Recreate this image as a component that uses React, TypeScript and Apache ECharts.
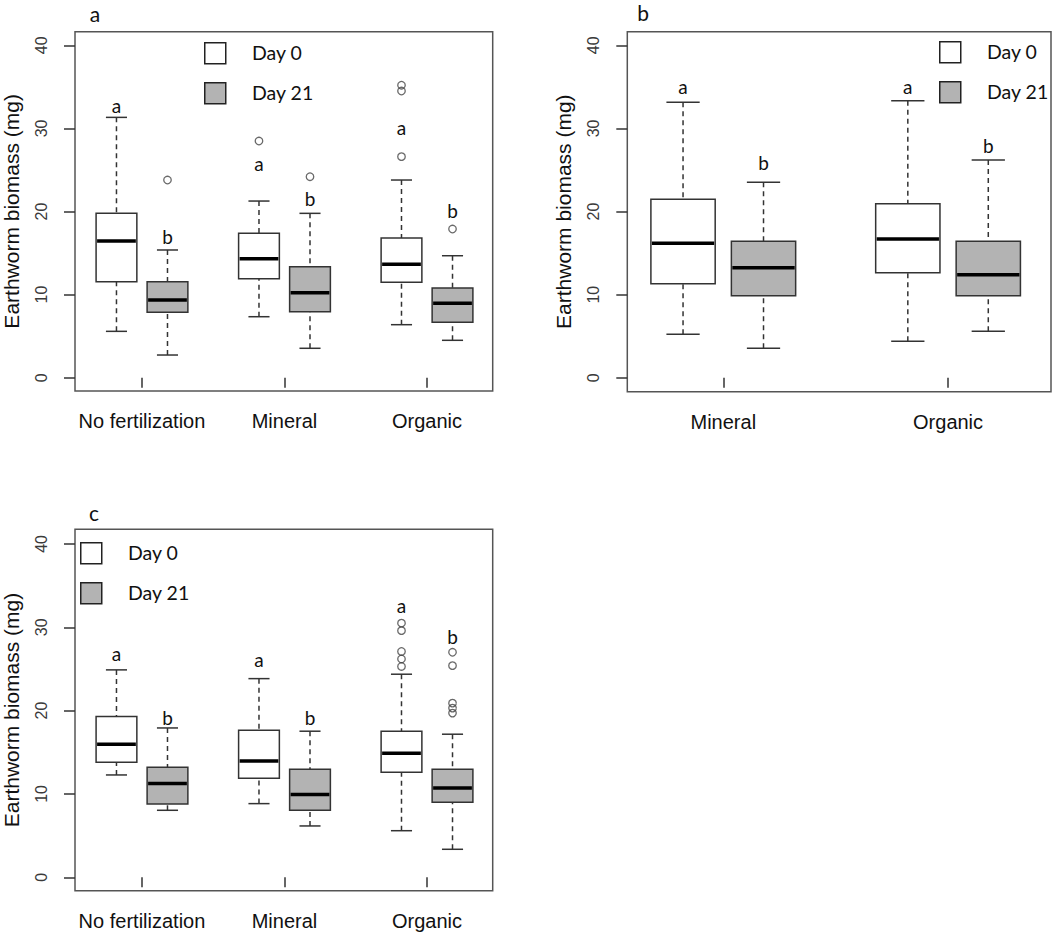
import React, { useEffect, useRef } from "react";
import * as echarts from "echarts";

// categories
const catsAC = ["No fertilization", "Mineral", "Organic"];
const catsB = ["Mineral", "Organic"];
const yTicks = [0, 10, 20, 30, 40];

// box stats: [lower whisker, Q1, median, Q3, upper whisker]
const aDay0 = [[5.58, 11.55, 16.45, 19.78, 31.33], [7.34, 11.91, 14.32, 17.38, 21.26], [6.38, 11.48, 13.65, 16.81, 23.79]];
const aDay21 = [[2.73, 7.87, 9.35, 11.55, 15.37], [3.54, 7.94, 10.23, 13.36, 19.78], [4.5, 6.67, 8.95, 10.79, 14.68]];
const aOut0 = [[], [28.48], [35.2, 34.5, 26.6]];
const aOut21 = [[23.79], [24.19], [17.89]];
const aLet0 = ["a", "a", "a"];
const aLet0Y = [32.7, 25.8, 30.08];
const aLet21 = ["b", "b", "b"];
const aLet21Y = [16.97, 21.54, 20.18];

const bDay0 = [[5.22, 11.31, 16.17, 21.47, 33.14], [4.38, 12.64, 16.69, 20.94, 33.33]];
const bDay21 = [[3.54, 9.87, 13.24, 16.41, 23.51], [5.58, 9.87, 12.4, 16.41, 26.2]];
const bOut0: number[][] = [[], []];
const bOut21: number[][] = [[], []];
const bLet0 = ["a", "a"];
const bLet0Y = [35.1, 35.1];
const bLet21 = ["b", "b"];
const bLet21Y = [25.87, 28.0];

const cDay0 = [[12.28, 13.81, 15.97, 19.28, 24.89], [8.84, 11.88, 13.96, 17.65, 23.84], [5.59, 12.6, 14.89, 17.53, 24.37]];
const cDay21 = [[8.04, 8.8, 11.24, 13.2, 17.92], [6.16, 8.04, 9.92, 12.97, 17.53], [3.36, 9.0, 10.72, 12.97, 17.17]];
const cOut0 = [[], [], [30.5, 29.6, 27.1, 26.2, 25.3]];
const cOut21 = [[], [], [27.0, 25.4, 20.9, 20.3, 19.7]];
const cLet0 = ["a", "a", "a"];
const cLet0Y = [26.89, 26.09, 32.57];
const cLet21 = ["b", "b", "b"];
const cLet21Y = [19.21, 19.21, 28.93];

const legendNames = ["Day 0", "Day 21"];
const fills = ["#ffffff", "#b3b3b3"];

const AXIS_FONT = "'Liberation Sans', Arial, sans-serif";
const LABEL_FONT = "Lato, 'Open Sans', sans-serif";
const OFF = 0.179;
const HW = 0.143;
const CW = 0.074;
const LINE = "#333";

function boxRender(fill: string) {
  return (params: any, api: any) => {
    const x = api.value(0);
    const lo = api.value(1), q1 = api.value(2), md = api.value(3), q3 = api.value(4), hi = api.value(5);
    const tl = api.coord([x - HW, q3]);
    const br = api.coord([x + HW, q1]);
    const mL = api.coord([x - HW, md]);
    const mR = api.coord([x + HW, md]);
    const c = api.coord([x, hi]);
    const cLo = api.coord([x, lo]);
    const capL = api.coord([x - CW, hi]);
    const capR = api.coord([x + CW, hi]);
    const capLl = api.coord([x - CW, lo]);
    const capRl = api.coord([x + CW, lo]);
    const dash = { stroke: LINE, lineWidth: 1.5, lineDash: [5, 4] };
    const solid = { stroke: LINE, lineWidth: 1.5 };
    return {
      type: "group",
      children: [
        { type: "line", shape: { x1: c[0], y1: c[1], x2: c[0], y2: tl[1] }, style: dash },
        { type: "line", shape: { x1: cLo[0], y1: cLo[1], x2: cLo[0], y2: br[1] }, style: dash },
        { type: "line", shape: { x1: capL[0], y1: capL[1], x2: capR[0], y2: capR[1] }, style: solid },
        { type: "line", shape: { x1: capLl[0], y1: capLl[1], x2: capRl[0], y2: capRl[1] }, style: solid },
        { type: "rect", shape: { x: tl[0], y: tl[1], width: br[0] - tl[0], height: br[1] - tl[1] }, style: { fill, stroke: LINE, lineWidth: 1.5 } },
        { type: "line", shape: { x1: mL[0] + 1, y1: mL[1], x2: mR[0] - 1, y2: mR[1] }, style: { stroke: "#000", lineWidth: 3.5 } },
      ],
    };
  };
}

function letterRender(letters: string[]) {
  return (params: any, api: any) => {
    const p = api.coord([api.value(0), api.value(1)]);
    return {
      type: "text",
      x: p[0],
      y: p[1],
      style: { text: letters[params.dataIndex], fill: "#111", font: `19px ${LABEL_FONT}`, align: "center", verticalAlign: "middle" },
    };
  };
}

type Panel = {
  cats: string[];
  day0: number[][];
  day21: number[][];
  out0: number[][];
  out21: number[][];
  let0: string[];
  let0Y: number[];
  let21: string[];
  let21Y: number[];
  grid: { left: number; top: number; width: number; height: number };
  xMin: number;
  xMax: number;
  yMin: number;
  yMax: number;
};

const panels: Panel[] = [
  { cats: catsAC, day0: aDay0, day21: aDay21, out0: aOut0, out21: aOut21, let0: aLet0, let0Y: aLet0Y, let21: aLet21, let21Y: aLet21Y,
    grid: { left: 75, top: 31.7, width: 417.7, height: 359.3 }, xMin: 0.53, xMax: 3.461, yMin: -1.6, yMax: 41.64 },
  { cats: catsB, day0: bDay0, day21: bDay21, out0: bOut0, out21: bOut21, let0: bLet0, let0Y: bLet0Y, let21: bLet21, let21Y: bLet21Y,
    grid: { left: 627.3, top: 31.7, width: 423.7, height: 360 }, xMin: 0.573, xMax: 2.458, yMin: -1.68, yMax: 41.64 },
  { cats: catsAC, day0: cDay0, day21: cDay21, out0: cOut0, out21: cOut21, let0: cLet0, let0Y: cLet0Y, let21: cLet21, let21Y: cLet21Y,
    grid: { left: 75, top: 529.3, width: 417.7, height: 361.4 }, xMin: 0.53, xMax: 3.461, yMin: -1.61, yMax: 41.76 },
];

const legendPos = [
  { x: 204, y: 42, tx: 252 },
  { x: 939, y: 41, tx: 987 },
  { x: 80, y: 542, tx: 128 },
];
const titles = [
  { t: "a", x: 95, y: 13 },
  { t: "b", x: 643, y: 12 },
  { t: "c", x: 94, y: 512 },
];

function buildOption() {
  const grid: any[] = [];
  const xAxis: any[] = [];
  const yAxis: any[] = [];
  const series: any[] = [];
  panels.forEach((p, i) => {
    grid.push({ ...p.grid, show: true, borderColor: "#555", borderWidth: 1.5, backgroundColor: "transparent" });
    const ticksX = p.cats.map((_, k) => k + 1);
    xAxis.push({
      type: "value", gridIndex: i, min: p.xMin, max: p.xMax,
      axisLine: { show: false }, splitLine: { show: false },
      axisTick: { show: true, length: 10, customValues: ticksX, lineStyle: { color: "#333", width: 1.5 } },
      axisLabel: { customValues: ticksX, formatter: (v: number) => p.cats[Math.round(v) - 1] ?? "", fontSize: 20, fontFamily: AXIS_FONT, color: "#111", margin: 20 },
    });
    yAxis.push({
      type: "value", gridIndex: i, min: p.yMin, max: p.yMax,
      name: "Earthworm biomass (mg)", nameLocation: "middle", nameGap: 53,
      nameTextStyle: { fontSize: 21, fontFamily: AXIS_FONT, color: "#111" },
      axisLine: { show: false }, splitLine: { show: false },
      axisTick: { show: true, length: 11, customValues: yTicks, lineStyle: { color: "#333", width: 1.5 } },
      axisLabel: { customValues: yTicks, rotate: 90, fontSize: 16, fontFamily: AXIS_FONT, color: "#3a3a3a", margin: 26 },
    });
    const days = [
      { boxes: p.day0, outs: p.out0, lets: p.let0, letY: p.let0Y, off: -OFF },
      { boxes: p.day21, outs: p.out21, lets: p.let21, letY: p.let21Y, off: OFF },
    ];
    days.forEach((d, di) => {
      series.push({
        type: "custom", name: legendNames[di], xAxisIndex: i, yAxisIndex: i,
        renderItem: boxRender(fills[di]),
        encode: { x: 0, y: [1, 2, 3, 4, 5] },
        data: d.boxes.map((b, k) => [k + 1 + d.off, ...b]),
        z: 3,
      });
      const outData: number[][] = [];
      d.outs.forEach((arr, k) => arr.forEach((v) => outData.push([k + 1 + d.off, v])));
      series.push({
        type: "scatter", xAxisIndex: i, yAxisIndex: i, symbol: "circle", symbolSize: 7.5,
        itemStyle: { color: "rgba(255,255,255,0)", borderColor: "#444", borderWidth: 1.3 },
        data: outData, z: 4, silent: true,
      });
      series.push({
        type: "custom", xAxisIndex: i, yAxisIndex: i,
        renderItem: letterRender(d.lets),
        data: d.letY.map((v, k) => [k + 1 + d.off, v]),
        z: 5, silent: true,
      });
    });
  });

  const graphic: any[] = [];
  legendPos.forEach((l) => {
    legendNames.forEach((n, k) => {
      graphic.push({ type: "rect", left: l.x, top: l.y + k * 40, shape: { width: 21, height: 21 }, style: { fill: fills[k], stroke: "#222", lineWidth: 1.5 } });
      graphic.push({ type: "text", x: l.tx, y: l.y + 10.5 + k * 40, style: { text: n, fill: "#111", font: `19.5px ${LABEL_FONT}`, verticalAlign: "middle", align: "left" } });
    });
  });
  titles.forEach((t) => {
    graphic.push({ type: "text", x: t.x, y: t.y, style: { text: t.t, fill: "#111", font: `21px ${LABEL_FONT}`, align: "center", verticalAlign: "middle" } });
  });

  return { animation: false, backgroundColor: "#fff", grid, xAxis, yAxis, series, graphic };
}

export default function App() {
  const ref = useRef<HTMLDivElement>(null);
  useEffect(() => {
    document.body.style.margin = "0";
    const chart = echarts.init(ref.current!, undefined, { renderer: "svg" });
    chart.setOption(buildOption() as any);
    return () => chart.dispose();
  }, []);
  return <div ref={ref} style={{ width: 1053, height: 938 }} />;
}
